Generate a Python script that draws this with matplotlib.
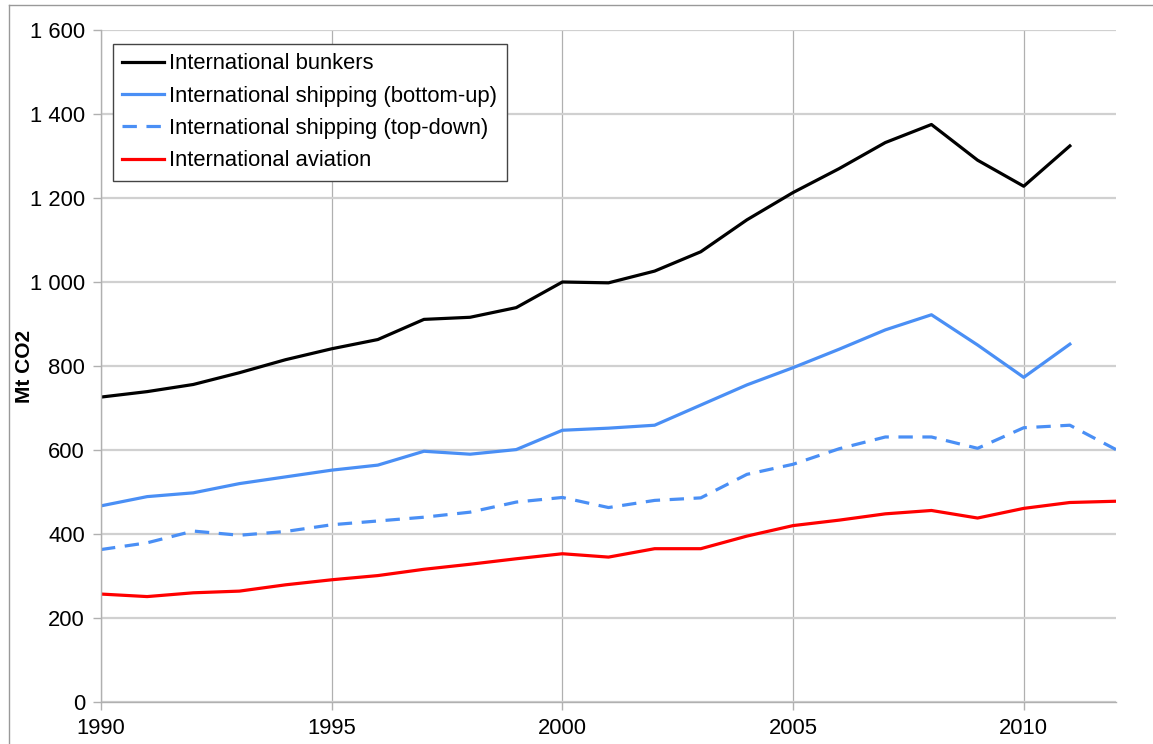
import matplotlib.pyplot as plt
from matplotlib.lines import Line2D
from matplotlib.ticker import FuncFormatter

plt.rcParams['font.family'] = ['Liberation Sans', 'DejaVu Sans']

years = list(range(1990, 2013))

# Mt CO2
bunkers = [726, 739, 756, 784, 815, 841, 863, 911, 916, 939, 1000,
           998, 1026, 1072, 1148, 1213, 1270, 1332, 1375, 1290, 1228, 1324]
shipping_bu = [467, 489, 498, 520, 536, 552, 564, 597, 590, 601, 647,
               652, 659, 707, 755, 796, 840, 886, 922, 850, 773, 852]
shipping_td = [363, 379, 407, 397, 406, 422, 431, 440, 452, 476, 487,
               463, 480, 486, 542, 566, 603, 631, 631, 604, 653, 659, 601]
aviation = [257, 251, 260, 264, 279, 291, 301, 316, 328, 341, 353,
            345, 365, 365, 395, 420, 433, 448, 456, 438, 461, 475, 478]

labels = ['International bunkers', 'International shipping (bottom-up)',
          'International shipping (top-down)', 'International aviation']

blue = '#4a8ff5'
fs = 15.8

fig = plt.figure(figsize=(11.53, 7.44), dpi=100)
ax = fig.add_axes([101/1153, 1-702/744, (1116-101)/1153, (702-30)/744])

lw = 2.3
ax.plot(years[:len(bunkers)], bunkers, color='black', lw=lw, label=labels[0])
ax.plot(years[:len(shipping_bu)], shipping_bu, color=blue, lw=lw, label=labels[1])
ax.plot(years, shipping_td, color=blue, lw=lw, dashes=(4.5, 3), label=labels[2])
ax.plot(years, aviation, color='#ff0000', lw=lw, label=labels[3])

ax.set_xlim(1990, 2012)
ax.set_ylim(0, 1600)
ax.set_xticks([1990, 1995, 2000, 2005, 2010])
ax.set_yticks(range(0, 1601, 200))
ax.yaxis.set_major_formatter(FuncFormatter(lambda v, p: f'{int(v):,}'.replace(',', ' ')))

ax.grid(axis='y', color='#d0d0d0', lw=1.6)
ax.grid(axis='x', color='#b0b0b0', lw=0.9)
ax.set_axisbelow(True)
for s in ['top', 'right']:
    ax.spines[s].set_visible(False)
for s in ['left', 'bottom']:
    ax.spines[s].set_color('#b0b0b0')
    ax.spines[s].set_linewidth(1.0)
ax.tick_params(axis='both', colors='#b0b0b0', labelcolor='black',
               labelsize=fs, length=5.5, width=1.0)
ax.tick_params(axis='y', pad=6)
ax.tick_params(axis='x', pad=6)

fig.text(25/1153, 1-366/744, 'Mt CO2', rotation=90, ha='center', va='center',
         fontsize=15, fontweight='bold')

handles = [Line2D([], [], color='black', lw=lw),
           Line2D([], [], color=blue, lw=lw),
           Line2D([], [], color=blue, lw=lw, dashes=(4.5, 3)),
           Line2D([], [], color='#ff0000', lw=lw)]
leg = ax.legend(handles, labels, loc='upper left',
                bbox_to_anchor=(113/1153, 1-44/744), bbox_transform=fig.transFigure,
                borderaxespad=0, fontsize=fs, handlelength=1.9, handletextpad=0.25,
                labelspacing=0.52, borderpad=0.42, fancybox=False, framealpha=1)
leg.get_frame().set_edgecolor('#444444')
leg.get_frame().set_linewidth(1.0)

# outer chart border
fig.add_artist(Line2D([9/1153, 9/1153], [0, 1-5/744], transform=fig.transFigure,
                      color='#999999', lw=1.0))
fig.add_artist(Line2D([9/1153, 1], [1-5/744, 1-5/744], transform=fig.transFigure,
                      color='#999999', lw=1.0))

fig.savefig('out.png', dpi=100)
